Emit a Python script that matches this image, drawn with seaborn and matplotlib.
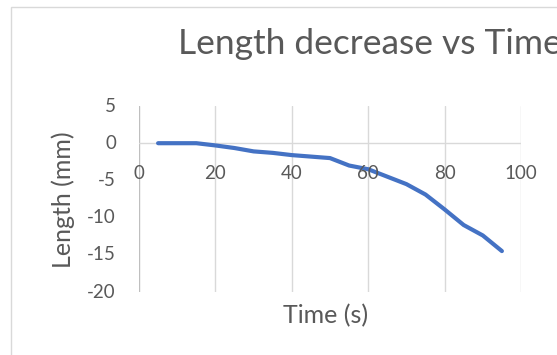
import matplotlib
matplotlib.use("Agg")
import matplotlib.pyplot as plt
from matplotlib.patches import Rectangle
import seaborn as sns
import pandas as pd

# Measured shortening of the sample over time
time_s = [5, 10, 15, 20, 25, 30, 35, 40, 45, 50, 55, 60, 65, 70, 75, 80, 85, 90, 95]
length_mm = [0.0, 0.0, 0.0, -0.3, -0.65, -1.1, -1.3, -1.6, -1.8, -2.0, -3.0, -3.5,
             -4.5, -5.5, -6.9, -8.9, -11.0, -12.4, -14.5]
x_ticks = [0, 20, 40, 60, 80, 100]
y_ticks = [5, 0, -5, -10, -15, -20]

sns.set_theme(style="white")
FONT = ["Lato", "DejaVu Sans"]
plt.rcParams["font.family"] = FONT
TEXT = "#595959"
GRID = "#D9D9D9"
AXIS = "#BFBFBF"

W, H = 557, 355
fig = plt.figure(figsize=(W / 100, H / 100), dpi=100)
fig.patch.set_facecolor("white")

# chart frame (extends past the right and bottom edges)
fig.patches.append(Rectangle((11 / W, -0.1), 1.2, 1 - 7 / H + 0.1,
                             transform=fig.transFigure, fill=False,
                             edgecolor=GRID, linewidth=1.0))

ax = fig.add_axes([139 / W, 1 - 292 / H, (521 - 139) / W, (292 - 106) / H])
ax.set_facecolor("none")

df = pd.DataFrame({"Time (s)": time_s, "Length (mm)": length_mm})
sns.lineplot(data=df, x="Time (s)", y="Length (mm)", ax=ax, color="#4472C4",
             linewidth=3.0, solid_joinstyle="round", solid_capstyle="round")

ax.set_xlim(0, 100)
ax.set_ylim(-20, 5)
for s in ax.spines.values():
    s.set_visible(False)

# vertical gridlines and the two axis lines crossing at the origin
for xv in x_ticks[1:]:
    ax.axvline(xv, color=GRID, linewidth=1.0, zorder=0)
ax.axvline(0, color=AXIS, linewidth=1.0, zorder=0.5)
ax.axhline(0, color=GRID, linewidth=1.0, zorder=0.5)

ax.set_xticks([])
ax.set_yticks([])
ax.set_xlabel("")
ax.set_ylabel("")

TICK_FS = 13.5
for xv in x_ticks:
    ax.annotate(str(xv), xy=(xv, 0), xycoords="data", xytext=(0, -30),
                textcoords="offset pixels", ha="center", va="center",
                fontsize=TICK_FS, color=TEXT)
for yv in y_ticks:
    ax.annotate(str(yv), xy=(0, yv), xycoords="data", xytext=(-23, 0),
                textcoords="offset pixels", ha="right", va="center",
                fontsize=TICK_FS, color=TEXT)

fig.text(325.5 / W, 1 - 316 / H, "Time (s)", ha="center", va="center",
         fontsize=18, color=TEXT)
fig.text(63 / W, 1 - 200 / H, "Length (mm)", ha="center", va="center",
         rotation=90, fontsize=18, color=TEXT)
fig.text(178 / W, 1 - 44 / H, "Length decrease vs Time", ha="left", va="center",
         fontsize=25.5, color=TEXT)

fig.savefig("out.png", dpi=100, facecolor="white")
